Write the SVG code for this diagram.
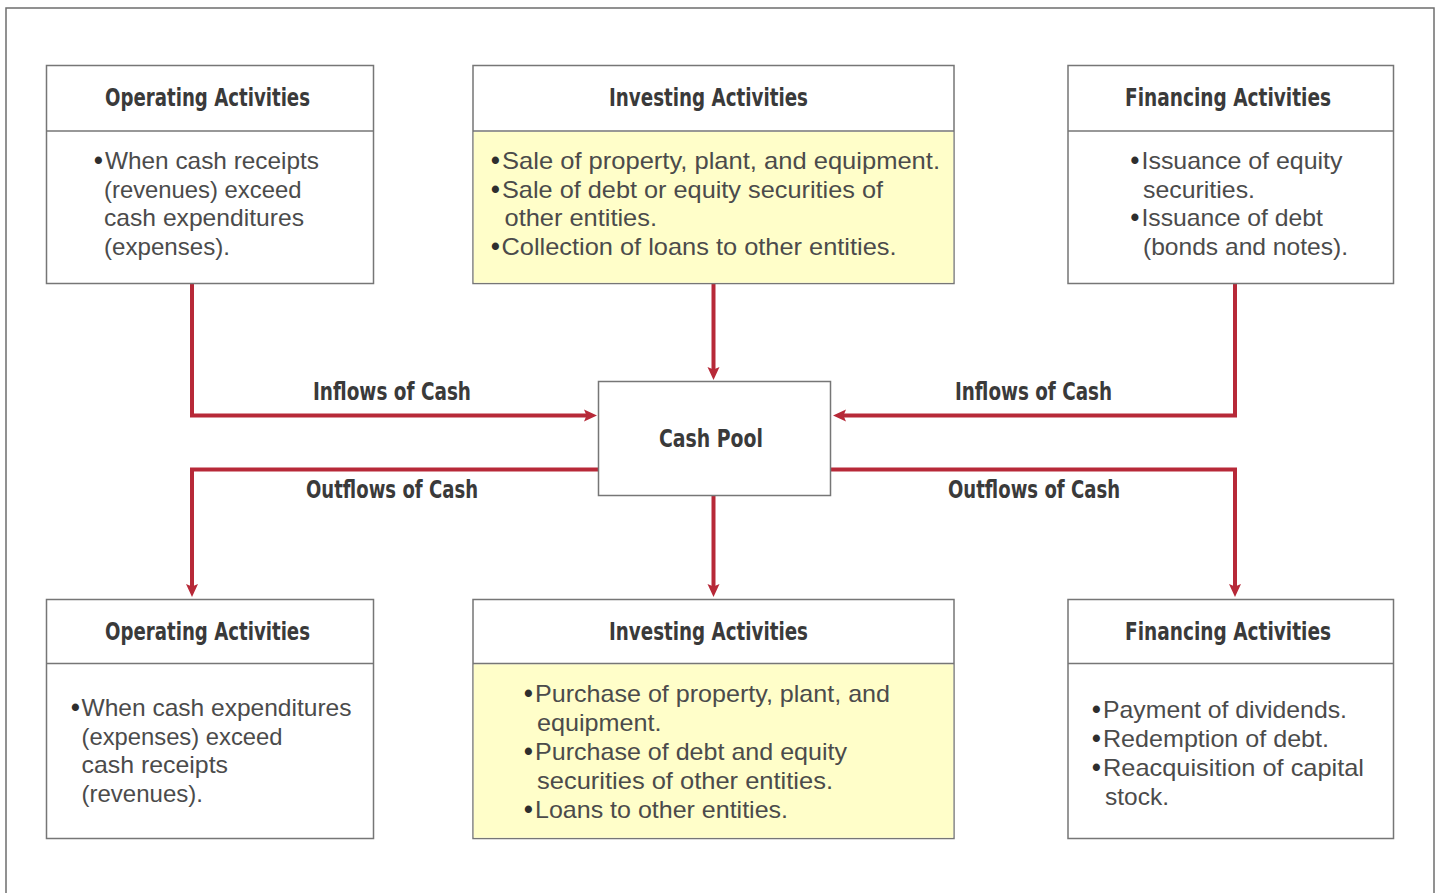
<svg xmlns="http://www.w3.org/2000/svg" width="1440" height="893" viewBox="0 0 1440 893">
  <style>
    .frame { fill: none; stroke: #6e6e6e; stroke-width: 1.5; }
    .box { fill: #ffffff; stroke: #767676; stroke-width: 1.5; }
    .hl { fill: #fffec9; stroke: none; }
    .div { stroke: #767676; stroke-width: 1.5; }
    .head { font-family: "Liberation Sans Narrow", "DejaVu Sans Condensed", "Roboto Condensed", sans-serif; font-weight: bold; font-size: 25px; fill: #3a3a3a; font-stretch: condensed; }
    .body { font-family: "Liberation Sans", Arial, sans-serif; font-size: 24px; fill: #4b4b4b; }
    .bul { font-family: "Liberation Sans", Arial, sans-serif; font-size: 25px; font-weight: bold; fill: #2e2e2e; }
    .flow { fill: none; stroke: #b72938; stroke-width: 4; stroke-linejoin: miter; stroke-linecap: butt; }
  </style>
  <defs>
    <marker id="arrow" markerUnits="userSpaceOnUse" markerWidth="14" markerHeight="14" viewBox="0 0 14 14" refX="7" refY="7" orient="auto">
      <path d="M0,1 L13,7 L0,13 L2.5,7 z" fill="#b72938"/>
    </marker>
  </defs>

  <!-- page border -->
  <rect class="frame" x="6" y="8" width="1428" height="900"/>

  <!-- connectors -->
  <g id="connectors">
    <path class="flow" d="M192,284 V415.5 H591" marker-end="url(#arrow)"/>
    <path class="flow" d="M713.5,284 V374" marker-end="url(#arrow)"/>
    <path class="flow" d="M1235,284 V415.5 H839" marker-end="url(#arrow)"/>
    <path class="flow" d="M598,469.5 H192 V591" marker-end="url(#arrow)"/>
    <path class="flow" d="M713.5,496 V591" marker-end="url(#arrow)"/>
    <path class="flow" d="M831,469.5 H1235 V591" marker-end="url(#arrow)"/>
  </g>

  <!-- flow labels -->
  <g id="labels">
    <text class="head" x="313" y="400" textLength="158" lengthAdjust="spacingAndGlyphs">Inflows of Cash</text>
    <text class="head" x="306" y="498" textLength="172" lengthAdjust="spacingAndGlyphs">Outflows of Cash</text>
    <text class="head" x="955" y="400" textLength="157" lengthAdjust="spacingAndGlyphs">Inflows of Cash</text>
    <text class="head" x="948" y="498" textLength="172" lengthAdjust="spacingAndGlyphs">Outflows of Cash</text>
  </g>

  <!-- central node -->
  <g id="cash-pool">
    <rect class="box" x="598.5" y="381.5" width="232" height="114"/>
    <text class="head" x="659" y="447" textLength="104" lengthAdjust="spacingAndGlyphs">Cash Pool</text>
  </g>

  <!-- inflow sources -->
  <g id="operating-in">
    <rect class="box" x="46.5" y="65.5" width="327" height="218"/>
    <line class="div" x1="46.5" y1="131" x2="373.5" y2="131"/>
    <text class="head" x="105" y="106" textLength="205" lengthAdjust="spacingAndGlyphs">Operating Activities</text>
    <text class="bul" x="94" y="169">•</text>
    <text class="body" x="105" y="169" textLength="214" lengthAdjust="spacingAndGlyphs">When cash receipts</text>
    <text class="body" x="104" y="197.5" textLength="197.5" lengthAdjust="spacingAndGlyphs">(revenues) exceed</text>
    <text class="body" x="104" y="226" textLength="200" lengthAdjust="spacingAndGlyphs">cash expenditures</text>
    <text class="body" x="104" y="254.5" textLength="126" lengthAdjust="spacingAndGlyphs">(expenses).</text>
  </g>

  <g id="investing-in">
    <rect class="box" x="473" y="65.5" width="481" height="218"/>
    <rect class="hl" x="473.75" y="131.75" width="479.5" height="151"/>
    <line class="div" x1="473" y1="131" x2="954" y2="131"/>
    <text class="head" x="609" y="106" textLength="199" lengthAdjust="spacingAndGlyphs">Investing Activities</text>
    <text class="bul" x="491" y="169">•</text>
    <text class="body" x="502" y="169" textLength="438" lengthAdjust="spacingAndGlyphs">Sale of property, plant, and equipment.</text>
    <text class="bul" x="491" y="197.5">•</text>
    <text class="body" x="502" y="197.5" textLength="381" lengthAdjust="spacingAndGlyphs">Sale of debt or equity securities of</text>
    <text class="body" x="504.5" y="226" textLength="152.5" lengthAdjust="spacingAndGlyphs">other entities.</text>
    <text class="bul" x="491" y="254.5">•</text>
    <text class="body" x="501.5" y="254.5" textLength="395" lengthAdjust="spacingAndGlyphs">Collection of loans to other entities.</text>
  </g>

  <g id="financing-in">
    <rect class="box" x="1068" y="65.5" width="325.5" height="218"/>
    <line class="div" x1="1068" y1="131" x2="1393.5" y2="131"/>
    <text class="head" x="1125" y="106" textLength="206" lengthAdjust="spacingAndGlyphs">Financing Activities</text>
    <text class="bul" x="1130.5" y="169">•</text>
    <text class="body" x="1141.5" y="169" textLength="201" lengthAdjust="spacingAndGlyphs">Issuance of equity</text>
    <text class="body" x="1143" y="197.5" textLength="112" lengthAdjust="spacingAndGlyphs">securities.</text>
    <text class="bul" x="1130.5" y="226">•</text>
    <text class="body" x="1141.5" y="226" textLength="181.5" lengthAdjust="spacingAndGlyphs">Issuance of debt</text>
    <text class="body" x="1143" y="254.5" textLength="205" lengthAdjust="spacingAndGlyphs">(bonds and notes).</text>
  </g>

  <!-- outflow targets -->
  <g id="operating-out">
    <rect class="box" x="46.5" y="599.5" width="327" height="239"/>
    <line class="div" x1="46.5" y1="663.5" x2="373.5" y2="663.5"/>
    <text class="head" x="105" y="640" textLength="205" lengthAdjust="spacingAndGlyphs">Operating Activities</text>
    <text class="bul" x="71" y="716">•</text>
    <text class="body" x="81.5" y="716" textLength="270" lengthAdjust="spacingAndGlyphs">When cash expenditures</text>
    <text class="body" x="81.5" y="744.5" textLength="201" lengthAdjust="spacingAndGlyphs">(expenses) exceed</text>
    <text class="body" x="81.5" y="773" textLength="146.5" lengthAdjust="spacingAndGlyphs">cash receipts</text>
    <text class="body" x="81.5" y="801.5" textLength="121.5" lengthAdjust="spacingAndGlyphs">(revenues).</text>
  </g>

  <g id="investing-out">
    <rect class="box" x="473" y="599.5" width="481" height="239"/>
    <rect class="hl" x="473.75" y="664.25" width="479.5" height="173.5"/>
    <line class="div" x1="473" y1="663.5" x2="954" y2="663.5"/>
    <text class="head" x="609" y="640" textLength="199" lengthAdjust="spacingAndGlyphs">Investing Activities</text>
    <text class="bul" x="524" y="702">•</text>
    <text class="body" x="535" y="702" textLength="355" lengthAdjust="spacingAndGlyphs">Purchase of property, plant, and</text>
    <text class="body" x="537" y="731" textLength="124.5" lengthAdjust="spacingAndGlyphs">equipment.</text>
    <text class="bul" x="524" y="760">•</text>
    <text class="body" x="535" y="760" textLength="312" lengthAdjust="spacingAndGlyphs">Purchase of debt and equity</text>
    <text class="body" x="537" y="789" textLength="296" lengthAdjust="spacingAndGlyphs">securities of other entities.</text>
    <text class="bul" x="524" y="817.5">•</text>
    <text class="body" x="535" y="817.5" textLength="253" lengthAdjust="spacingAndGlyphs">Loans to other entities.</text>
  </g>

  <g id="financing-out">
    <rect class="box" x="1068" y="599.5" width="325.5" height="239"/>
    <line class="div" x1="1068" y1="663.5" x2="1393.5" y2="663.5"/>
    <text class="head" x="1125" y="640" textLength="206" lengthAdjust="spacingAndGlyphs">Financing Activities</text>
    <text class="bul" x="1092" y="718">•</text>
    <text class="body" x="1103" y="718" textLength="244" lengthAdjust="spacingAndGlyphs">Payment of dividends.</text>
    <text class="bul" x="1092" y="747">•</text>
    <text class="body" x="1103" y="747" textLength="226" lengthAdjust="spacingAndGlyphs">Redemption of debt.</text>
    <text class="bul" x="1092" y="776">•</text>
    <text class="body" x="1103" y="776" textLength="261" lengthAdjust="spacingAndGlyphs">Reacquisition of capital</text>
    <text class="body" x="1105" y="805" textLength="64" lengthAdjust="spacingAndGlyphs">stock.</text>
  </g>
</svg>
